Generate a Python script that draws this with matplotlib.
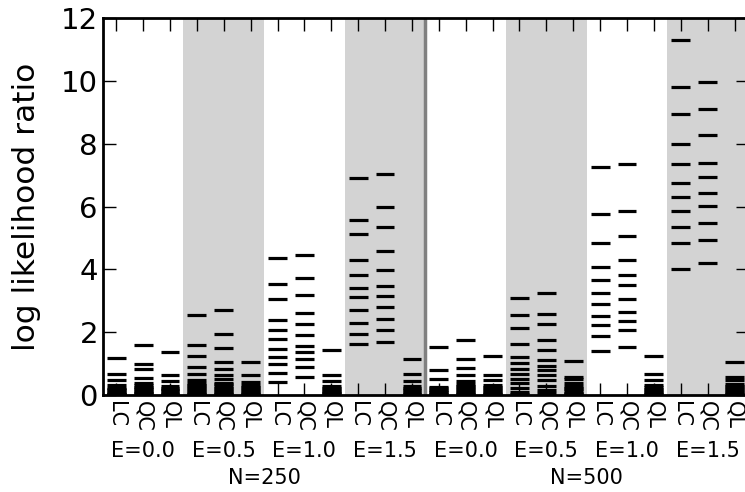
import matplotlib
matplotlib.use('Agg')
import matplotlib.pyplot as plt
import matplotlib.transforms as mtransforms

methods = ['LC', 'QC', 'QL']
effects = ['E=0.0', 'E=0.5', 'E=1.0', 'E=1.5']
sizes = ['N=250', 'N=500']

# log likelihood ratios per column, one list per effect size
n250_lc = [
    [1.17, 0.66, 0.49, 0.33, 0.23, 0.19, 0.15, 0.11, 0.08, 0.05, 0.02],
    [2.55, 1.59, 1.25, 0.89, 0.66, 0.48, 0.38, 0.33, 0.28, 0.23, 0.18, 0.13, 0.09, 0.05, 0.02],
    [4.35, 3.54, 3.05, 2.39, 2.06, 1.78, 1.47, 1.22, 0.99, 0.70, 0.42],
    [6.91, 5.58, 5.12, 4.30, 3.83, 3.40, 3.11, 2.72, 2.31, 1.96, 1.62],
]
n250_qc = [
    [1.61, 0.99, 0.84, 0.54, 0.39, 0.31, 0.27, 0.22, 0.18, 0.14, 0.10, 0.06, 0.03],
    [2.71, 1.94, 1.49, 1.04, 0.83, 0.63, 0.50, 0.39, 0.34, 0.29, 0.24, 0.19, 0.14, 0.10, 0.05, 0.02],
    [4.47, 3.74, 3.20, 2.62, 2.27, 1.91, 1.57, 1.36, 1.15, 0.88, 0.58],
    [7.03, 6.00, 5.34, 4.59, 3.98, 3.47, 3.17, 2.82, 2.43, 2.06, 1.70],
]
n250_ql = [
    [1.36, 0.64, 0.46, 0.28, 0.24, 0.20, 0.16, 0.12, 0.08, 0.05, 0.02],
    [1.05, 0.64, 0.41, 0.31, 0.26, 0.21, 0.16, 0.12, 0.08, 0.04, 0.02],
    [1.44, 0.63, 0.46, 0.29, 0.24, 0.19, 0.14, 0.10, 0.06, 0.03],
    [1.15, 0.67, 0.46, 0.29, 0.24, 0.19, 0.15, 0.10, 0.06, 0.03],
]
n500_lc = [
    [1.54, 0.80, 0.52, 0.27, 0.22, 0.17, 0.13, 0.09, 0.05, 0.02],
    [3.08, 2.55, 2.12, 1.62, 1.22, 1.01, 0.82, 0.67, 0.52, 0.37, 0.21, 0.10, 0.04],
    [7.25, 5.75, 4.85, 4.07, 3.66, 3.25, 2.90, 2.53, 2.23, 1.89, 1.41],
    [11.31, 9.80, 8.94, 7.99, 7.35, 6.76, 6.30, 5.85, 5.35, 4.84, 4.03],
]
n500_qc = [
    [1.75, 1.14, 0.87, 0.64, 0.46, 0.35, 0.30, 0.25, 0.20, 0.15, 0.11, 0.07, 0.03],
    [3.26, 2.58, 2.25, 1.74, 1.42, 1.13, 0.94, 0.79, 0.63, 0.47, 0.29, 0.15, 0.06],
    [7.35, 5.86, 5.08, 4.29, 3.81, 3.50, 3.07, 2.65, 2.35, 2.08, 1.53],
    [9.97, 9.12, 8.27, 7.40, 6.94, 6.44, 6.01, 5.49, 4.94, 4.20],
]
n500_ql = [
    [1.25, 0.64, 0.48, 0.32, 0.27, 0.22, 0.17, 0.12, 0.08, 0.04, 0.02],
    [1.09, 0.58, 0.50, 0.40, 0.30, 0.24, 0.18, 0.13, 0.08, 0.04, 0.02],
    [1.26, 0.66, 0.48, 0.31, 0.25, 0.20, 0.15, 0.10, 0.06, 0.02],
    [1.05, 0.59, 0.48, 0.36, 0.30, 0.25, 0.20, 0.15, 0.10, 0.06, 0.02],
]

columns = []
for lc, qc, ql in [(n250_lc, n250_qc, n250_ql), (n500_lc, n500_qc, n500_ql)]:
    for i in range(len(effects)):
        columns.append(lc[i])
        columns.append(qc[i])
        columns.append(ql[i])

fig = plt.figure(figsize=(7.45, 4.92), dpi=100)
ax = fig.add_axes([0.138, 0.197, 0.866, 0.766])

ncol = len(columns)
# shaded bands for every second effect size
for k in range(len(sizes) * len(effects)):
    if k % 2 == 1:
        ax.axvspan(3 * k - 0.5, 3 * k + 2.5, color='#d3d3d3', lw=0, zorder=0)
ax.axvline(3 * len(effects) - 0.5, color='#808080', lw=2.5, zorder=1)

for x, vals in enumerate(columns):
    ax.hlines(vals, x - 0.35, x + 0.35, colors='black', lw=2.3, zorder=2)

ax.set_xlim(-0.5, ncol - 0.5)
ax.set_ylim(0, 12)
ax.set_yticks(range(0, 13, 2))
ax.set_xticks(range(ncol))
ax.set_xticklabels(methods * (len(sizes) * len(effects)), rotation=-90, fontsize=15)
ax.tick_params(axis='both', direction='in', length=9, width=1, top=True, right=True)
ax.tick_params(axis='y', labelsize=21)
ax.tick_params(axis='x', pad=4)
ax.set_ylabel('log likelihood ratio', fontsize=22.5, labelpad=14)
for s in ax.spines.values():
    s.set_linewidth(2)

trans = mtransforms.blended_transform_factory(ax.transData, fig.transFigure)
for k in range(len(sizes) * len(effects)):
    ax.text(3 * k + 1, 1 - 451 / 492, effects[k % len(effects)], transform=trans,
            ha='center', va='center', fontsize=15)
for j, n in enumerate(sizes):
    ax.text(12 * j + 5.5, 1 - 478 / 492, n, transform=trans,
            ha='center', va='center', fontsize=15)

fig.savefig('out.png', dpi=100)
